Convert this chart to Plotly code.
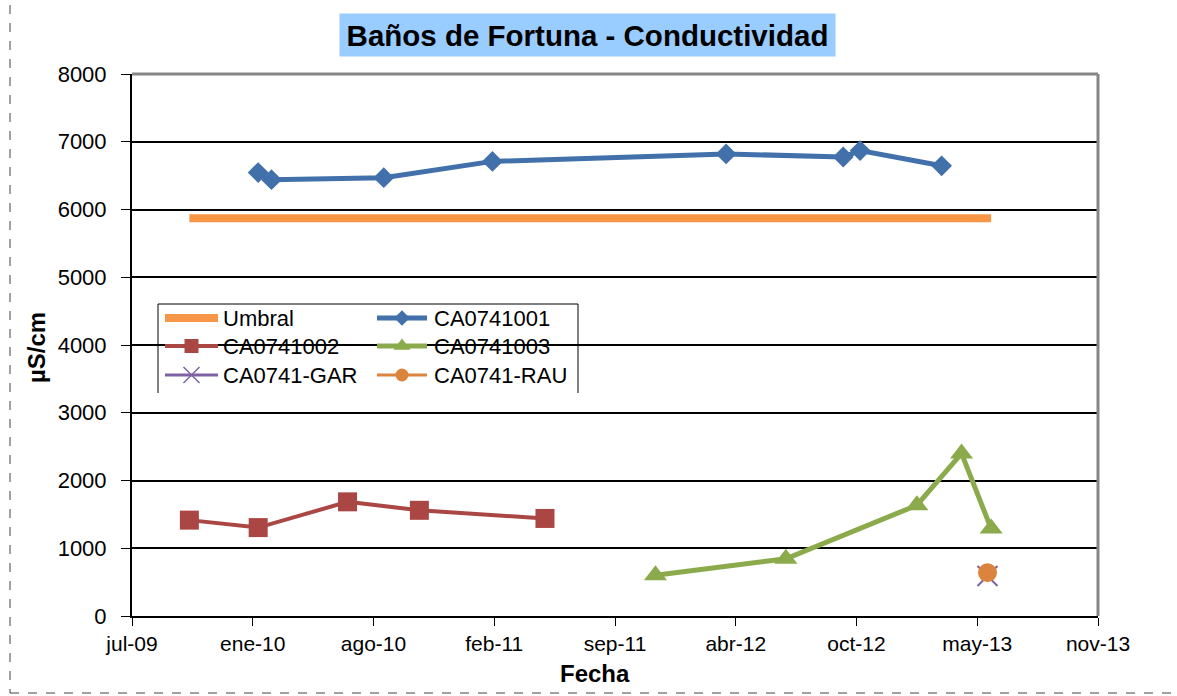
import plotly.graph_objects as go
from datetime import date, timedelta

# ---- data -------------------------------------------------------------
umbral_dates = ["2009-10-09", "2013-05-29"]
umbral_vals = [5870, 5870]

ca001_dates = ["2010-01-31", "2010-02-22", "2010-08-27", "2011-02-23",
               "2012-03-16", "2012-09-26", "2012-10-24", "2013-03-08"]
ca001_vals = [6545, 6440, 6470, 6710, 6820, 6775, 6870, 6645]

ca002_dates = ["2009-10-09", "2010-01-31", "2010-06-28", "2010-10-25", "2011-05-21"]
ca002_vals = [1415, 1305, 1685, 1560, 1440]

ca003_dates = ["2011-11-20", "2012-06-23", "2013-01-26", "2013-04-10", "2013-05-29"]
ca003_vals = [600, 845, 1635, 2400, 1290]

gar_dates = ["2013-05-23"]
gar_vals = [590]

rau_dates = ["2013-05-23"]
rau_vals = [640]

# date axis: starts 2009-07-06, major unit 200 days
axis_start = date(2009, 7, 6)
tick_step_days = 200
tick_labels = ["jul-09", "ene-10", "ago-10", "feb-11", "sep-11",
               "abr-12", "oct-12", "may-13", "nov-13"]
tick_dates = [(axis_start + timedelta(days=tick_step_days * i)).isoformat()
              for i in range(len(tick_labels))]

y_ticks = list(range(0, 8001, 1000))

# ---- styling ----------------------------------------------------------
FONT = "Liberation Sans, Arial, sans-serif"
C_UMBRAL = "#F79646"
C_001 = "#4170AA"
C_002 = "#AA4643"
C_003 = "#8BAA4B"
C_GAR = "#7E62A1"
C_RAU = "#DB843D"

W, H = 1177, 696
L, R, T, B = 132, 1098, 74, 616   # plot-area pixel box


def px(x):
    return (x - L) / (R - L)


def py(y):
    return (B - y) / (B - T)


fig = go.Figure()

fig.add_trace(go.Scatter(x=umbral_dates, y=umbral_vals, mode="lines",
                         line=dict(color=C_UMBRAL, width=8), name="Umbral"))
fig.add_trace(go.Scatter(x=ca001_dates, y=ca001_vals, mode="lines+markers",
                         line=dict(color=C_001, width=5),
                         marker=dict(symbol="diamond", size=16, color=C_001),
                         name="CA0741001"))
fig.add_trace(go.Scatter(x=ca002_dates, y=ca002_vals, mode="lines+markers",
                         line=dict(color=C_002, width=4),
                         marker=dict(symbol="square", size=19, color=C_002),
                         name="CA0741002"))
fig.add_trace(go.Scatter(x=ca003_dates, y=ca003_vals, mode="lines+markers",
                         line=dict(color=C_003, width=5),
                         marker=dict(symbol="triangle-up", size=20, color=C_003),
                         name="CA0741003"))
fig.add_trace(go.Scatter(x=gar_dates, y=gar_vals, mode="lines+markers",
                         line=dict(color=C_GAR, width=3),
                         marker=dict(symbol="x-thin", size=20,
                                     line=dict(color=C_GAR, width=2)),
                         name="CA0741-GAR"))
fig.add_trace(go.Scatter(x=rau_dates, y=rau_vals, mode="lines+markers",
                         line=dict(color=C_RAU, width=3),
                         marker=dict(symbol="circle", size=19, color=C_RAU),
                         name="CA0741-RAU"))

# ---- legend (drawn on an overlay axis in plot-area fractions) ----------
legend_rows = [318, 346, 375]
legend_cols = [(165, 218, 221), (377, 427, 432)]   # line start, line end, text x
legend_items = [
    ("Umbral", C_UMBRAL, 8, None, 0),
    ("CA0741001", C_001, 5, "diamond", 12),
    ("CA0741002", C_002, 4, "square", 14),
    ("CA0741003", C_003, 5, "triangle-up", 15),
    ("CA0741-GAR", C_GAR, 3, "x-thin", 16),
    ("CA0741-RAU", C_RAU, 3, "circle", 13),
]

fig.add_shape(type="rect", xref="paper", yref="paper",
              x0=px(158), x1=px(578), y0=py(393), y1=py(304),
              fillcolor="white", line=dict(width=0), layer="between")
fig.add_shape(type="path", xref="paper", yref="paper",
              path=f"M{px(158)},{py(393)} L{px(158)},{py(304)} "
                   f"L{px(578)},{py(304)} L{px(578)},{py(393)}",
              line=dict(color="black", width=1), layer="above")

for i, (label, color, lw, sym, msize) in enumerate(legend_items):
    row, col = divmod(i, 2)
    x0, x1, tx = legend_cols[col]
    yy = py(legend_rows[row])
    fig.add_trace(go.Scatter(x=[px(x0), px(x1)], y=[yy, yy], mode="lines",
                             line=dict(color=color, width=lw),
                             xaxis="x2", yaxis="y2", hoverinfo="skip"))
    if sym:
        mk = dict(symbol=sym, size=msize, color=color)
        if sym == "x-thin":
            mk["line"] = dict(color=color, width=1.5)
        fig.add_trace(go.Scatter(x=[px((x0 + x1) / 2)], y=[yy], mode="markers",
                                 marker=mk, xaxis="x2", yaxis="y2",
                                 hoverinfo="skip"))
    fig.add_annotation(x=px(tx), y=yy, xref="paper", yref="paper",
                       text=label, showarrow=False, xanchor="left",
                       yanchor="middle", font=dict(family=FONT, size=22,
                                                   color="black"))

# ---- frame lines --------------------------------------------------------
fig.add_shape(type="line", xref="paper", yref="paper", x0=0, x1=1, y0=1, y1=1,
              line=dict(color="#868686", width=3), layer="above")
fig.add_shape(type="line", xref="paper", yref="paper", x0=1, x1=1, y0=0, y1=1,
              line=dict(color="#868686", width=3), layer="above")

# dashed outer border of the chart area
fig.add_shape(type="rect", xref="paper", yref="paper",
              x0=px(10), x1=px(1190), y0=py(693), y1=py(-10),
              line=dict(color="#444444", width=1, dash="dash"),
              fillcolor="rgba(0,0,0,0)", layer="above")

# ---- titles -------------------------------------------------------------
fig.add_annotation(x=px(587), y=py(35), xref="paper", yref="paper",
                   text="<b>Baños de Fortuna - Conductividad</b>",
                   showarrow=False, xanchor="center", yanchor="middle",
                   bgcolor="#99CCFF", width=493, height=40,
                   font=dict(family=FONT, size=29.5, color="black"))
fig.add_annotation(x=px(595), y=py(673), xref="paper", yref="paper",
                   text="<b>Fecha</b>", showarrow=False,
                   xanchor="center", yanchor="middle",
                   font=dict(family=FONT, size=24, color="black"))
fig.add_annotation(x=px(36), y=py(348), xref="paper", yref="paper",
                   text="<b>µS/cm</b>", showarrow=False, textangle=-90,
                   xanchor="center", yanchor="middle",
                   font=dict(family=FONT, size=24, color="black"))

fig.update_layout(
    width=W, height=H,
    margin=dict(l=L, r=W - R, t=T, b=H - B, pad=0),
    paper_bgcolor="white", plot_bgcolor="white",
    showlegend=False,
    font=dict(family=FONT, color="black"),
    xaxis=dict(type="date",
               range=[tick_dates[0], tick_dates[-1]],
               tickmode="array", tickvals=tick_dates, ticktext=tick_labels,
               showgrid=False, zeroline=False,
               showline=True, linecolor="black", linewidth=2,
               ticks="outside", ticklen=8, tickcolor="black", tickwidth=1,
               tickfont=dict(family=FONT, size=21, color="black")),
    yaxis=dict(range=[0, 8000], tickmode="array", tickvals=y_ticks,
               showgrid=True, gridcolor="black", gridwidth=1.5,
               zeroline=False,
               showline=True, linecolor="black", linewidth=2,
               ticks="outside", ticklen=9, tickcolor="black", tickwidth=1,
               ticklabelstandoff=10,
               tickfont=dict(family=FONT, size=22, color="black")),
    xaxis2=dict(overlaying="x", range=[0, 1], visible=False),
    yaxis2=dict(overlaying="y", range=[0, 1], visible=False),
)

fig.write_html("out.html")
